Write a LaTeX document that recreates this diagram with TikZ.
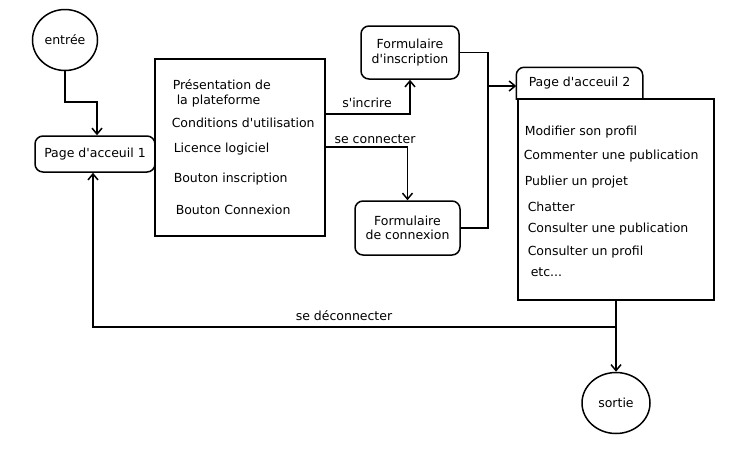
\documentclass[tikz,border=0pt]{standalone}
\usepackage{fontspec}
\setmainfont{DejaVu Sans}
\usetikzlibrary{shapes.geometric,arrows.meta,calc}
\newcommand{\ap}{\textquotesingle}
\begin{document}
\begin{tikzpicture}[x=1pt,y=-1pt,
  font=\fontsize{12.5}{14.5}\selectfont,
  line width=1.5pt,
  arr/.style={-{Straight Barb[length=6pt,width=10pt,line width=1.5pt]}},
  oval/.style={ellipse,draw,inner sep=0pt},
  rbox/.style={rectangle,rounded corners=8pt,draw,align=center,inner sep=0pt},
  sbox/.style={rectangle,draw,inner sep=0pt},
  item/.style={anchor=west,inner sep=0pt},
  lbl/.style={inner sep=0pt}]
\useasboundingbox (0,0) rectangle (747,448);
\node[oval,minimum width=65pt,minimum height=61pt] (entree) at (65,40) {entrée};
\node[rbox,minimum width=120pt,minimum height=36pt] (p1) at (95,154) {Page d\ap acceuil 1};
\node[sbox,minimum width=170pt,minimum height=177pt] (b1) at (240,147.5) {};
\node[item] (t1) at (172,85) {Présentation de};
\node[item] (t2) at (176,101) {la plateforme};
\node[item] (t3) at (171,123) {Conditions d\ap utilisation};
\node[item] (t4) at (173,149) {Licence logiciel};
\node[item] (t5) at (173,179) {Bouton inscription};
\node[item] (t6) at (175,210) {Bouton Connexion};
\node[rbox,minimum width=98pt,minimum height=53pt] (fi) at (410,52.5) {Formulaire\\d\ap inscription};
\node[rbox,minimum width=105pt,minimum height=54pt] (fc) at (407.5,228) {Formulaire\\de connexion};
\node[inner sep=0pt,minimum width=125pt,minimum height=31pt] (tab) at (579.5,83.5) {Page d\ap acceuil 2};
\draw[rounded corners=8pt] (tab.south west) -- (tab.north west) -- (tab.north east) -- (tab.south east);
\node[sbox,minimum width=196pt,minimum height=201pt] (b2) at (616,199.5) {};
\node[item] (u1) at (524,132) {Modifier son profil};
\node[item] (u2) at (523,156) {Commenter une publication};
\node[item] (u3) at (524,182) {Publier un projet};
\node[item] (u4) at (527,207) {Chatter};
\node[item] (u5) at (527,229) {Consulter une publication};
\node[item] (u6) at (527,252) {Consulter un profil};
\node[item] (u7) at (530,272) {etc...};
\node[oval,minimum width=68pt,minimum height=61pt] (sortie) at (616,403) {sortie};
% connectors
\coordinate (j1) at (80,102);
\draw[arr] (entree.south) |- (j1) -| ([xshift=2pt]p1.north);
\coordinate (s1) at (325,114);
\draw[arr] (s1) -| (fi.south);
\node[lbl] (ls1) at (367,103) {s\ap incrire};
\coordinate (s2) at (325,147);
\draw[arr] (s2) -| (fc.north);
\node[lbl] (ls2) at (375,139) {se connecter};
\coordinate (m) at (488,86);
\draw (fi.east) -| (m) |- (fc.east);
\draw[arr] (m) -- (m -| tab.west);
\draw[arr] (b2.south) -- (sortie.north);
\coordinate (d) at (616,327);
\draw[arr] (d) -| ([xshift=-2pt]p1.south);
\node[lbl] (ld) at (344,316) {se déconnecter};
\end{tikzpicture}
\end{document}
